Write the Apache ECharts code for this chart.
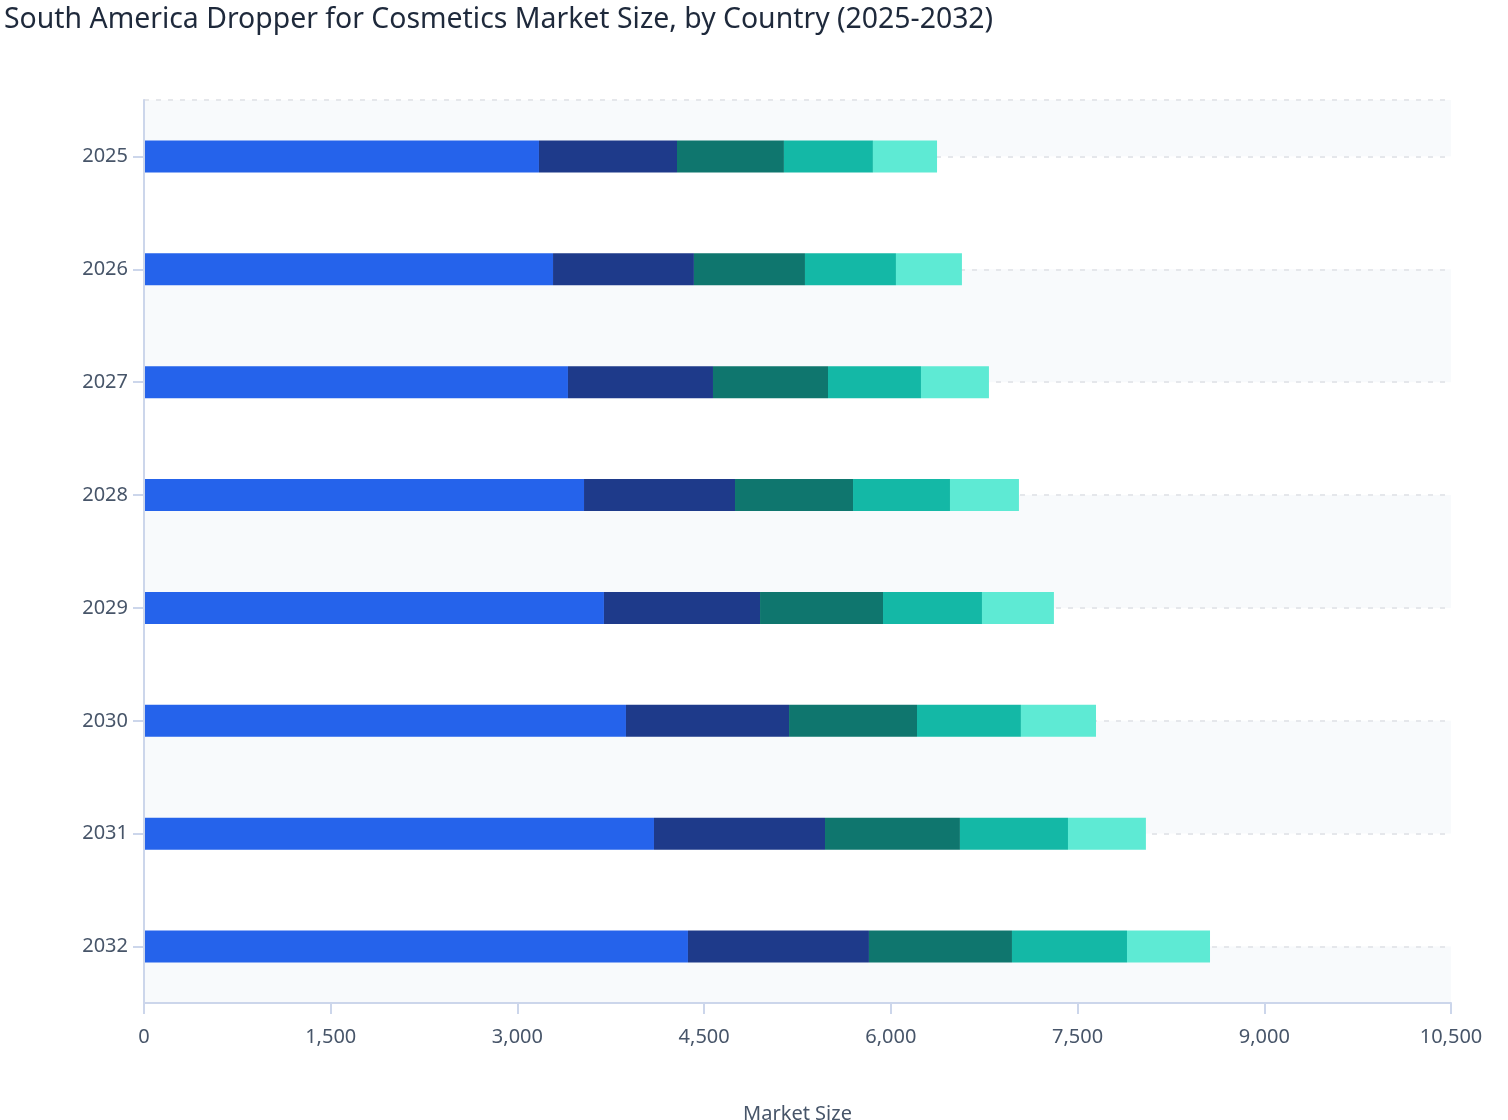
<!DOCTYPE html>
<html>
<head>
<meta charset="utf-8">
<script src="https://cdn.jsdelivr.net/npm/echarts@6/dist/echarts.min.js"></script>
<style>
  html, body { margin: 0; padding: 0; background: #fff; }
  #chart { width: 1508px; height: 1120px; }
</style>
</head>
<body>
<div id="chart"></div>
<script>
// years (categories)
var years = ["2025", "2026", "2027", "2028", "2029", "2030", "2031", "2032"]
// market size per country
var brazil = [3173, 3286, 3406, 3535, 3695, 3872, 4097, 4370]
var argentina = [1109, 1132, 1165, 1213, 1254, 1310, 1374, 1454]
var colombia = [859, 892, 924, 948, 988, 1028, 1084, 1149]
var chile = [715, 731, 747, 779, 795, 835, 868, 924]
var restOfSA = [515, 530, 546, 554, 578, 603, 626, 667]
var countries = ["Brazil", "Argentina", "Colombia", "Chile", "Rest of South America"]
var colors = ["#2563eb", "#1e3a8a", "#0f766e", "#14b8a6", "#5eead4"]
var xTicks = { min: 0, max: 10500, interval: 1500 }

var myEcharts = echarts.init(document.getElementById("chart"))
var seriesData = [brazil, argentina, colombia, chile, restOfSA]

// grid bands: edges of the plot plus every category centre
var bandStops = [-0.5].concat(years.map(function(y, i) { return i }), [years.length - 0.5])

var option = {
    animation: false,
    color: colors,
    textStyle: { fontFamily: "Noto Sans" },
    title: {
        text: "South America Dropper for Cosmetics Market Size, by Country (2025-2032)",
        left: -1,
        top: 1,
        textStyle: { fontSize: 28.4, fontWeight: "normal", color: "#1e293b", fontFamily: "Noto Sans" }
    },
    legend: { show: false },
    grid: { left: 144, right: 57, top: 100, bottom: 117, outerBoundsMode: "none" },
    xAxis: {
        type: "value",
        min: xTicks.min,
        max: xTicks.max,
        interval: xTicks.interval,
        name: "Market Size",
        nameLocation: "middle",
        nameGap: 101,
        nameTextStyle: { fontSize: 20, color: "#475569" },
        axisLine: { show: true, onZero: false, lineStyle: { color: "#ccd6eb", width: 2 } },
        axisTick: { show: true, length: 11, lineStyle: { color: "#ccd6eb", width: 2 } },
        axisLabel: {
            fontSize: 20, color: "#475569", margin: 24,
            formatter: function(v) { return v.toLocaleString("en-US") }
        },
        splitLine: { show: false },
        z: 3
    },
    yAxis: [{
        type: "category",
        inverse: true,
        data: years,
        axisLine: { show: true, lineStyle: { color: "#ccd6eb", width: 2 } },
        axisTick: { show: true, alignWithLabel: true, length: 11, lineStyle: { color: "#ccd6eb", width: 2 } },
        axisLabel: { fontSize: 20, color: "#475569", margin: 16 },
        splitLine: { show: false },
        splitArea: { show: false },
        z: 3
    }, {
        // only used for the dashed lines and shaded bands
        type: "value",
        inverse: true,
        position: "left",
        min: -0.5,
        max: years.length - 0.5,
        axisLine: { show: false },
        axisTick: { show: false, customValues: bandStops },
        axisLabel: { show: false },
        splitLine: { show: true, lineStyle: { color: "#e5e7eb", type: [5, 7], width: 2 } },
        splitArea: { show: true, areaStyle: { color: ["#f8fafc", "#ffffff"] } }
    }],
    series: countries.map(function(name, i) {
        return {
            name: name,
            type: "bar",
            stack: "total",
            barWidth: 32,
            yAxisIndex: 0,
            data: seriesData[i]
        }
    })
}
myEcharts.setOption(option)
</script>
</body>
</html>
